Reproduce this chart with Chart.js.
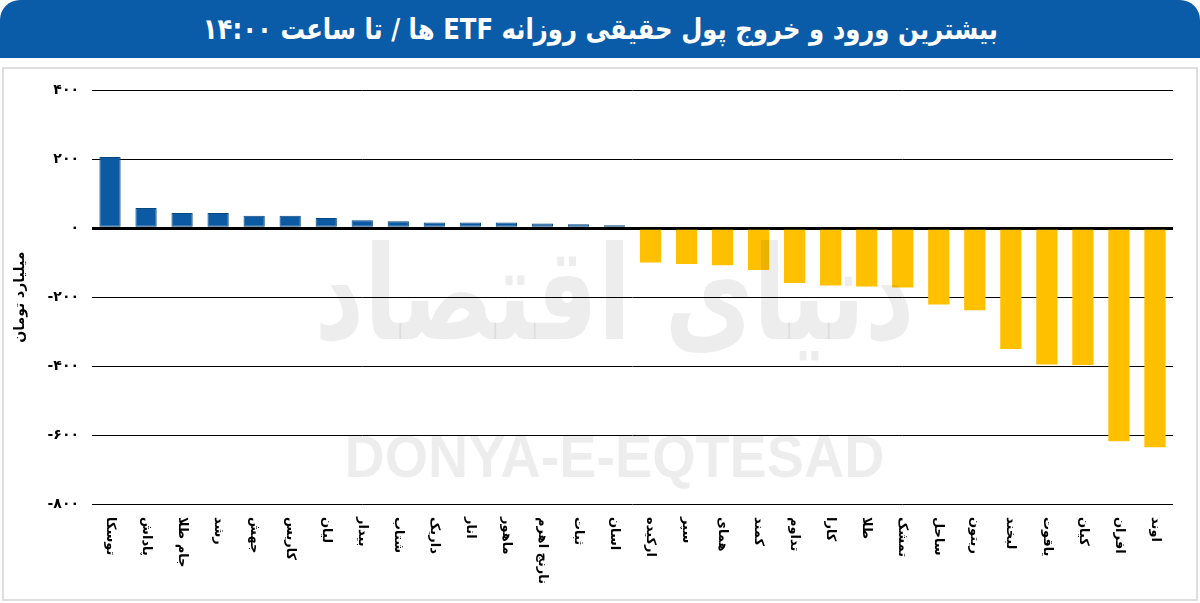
<!DOCTYPE html>
<html lang="fa">
<head>
<meta charset="utf-8">
<script src="https://cdn.jsdelivr.net/npm/chart.js@4.4.1/dist/chart.umd.min.js"></script>
<style>
html, body { margin: 0; padding: 0; background: #fff; }
body { width: 1200px; height: 603px; position: relative; overflow: hidden; font-family: "DejaVu Sans", sans-serif; }
#head {
  position: absolute; left: 0; top: 0; width: 1200px; height: 58px;
  background: #0a5ca8; border-radius: 20px 20px 0 0;
  color: #fff; font-weight: bold; font-size: 29px; line-height: 58px;
  text-align: center; direction: rtl;
}
#head span { display: inline-block; transform: scaleX(0.84); }
#panel { position: absolute; left: 2px; top: 67px; width: 1192px; height: 530px; border: 2px solid #dedede; }
#myChart { display: block; }
</style>
</head>
<body>
<div id="head"><span>بیشترین ورود و خروج پول حقیقی روزانه ETF ها / تا ساعت ۱۴:۰۰</span></div>
<div id="panel"><canvas id="myChart" width="1192" height="530"></canvas></div>
<script>
// fund names, left to right
const names = ['توسکا', 'پاداش', 'جام طلا', 'رشد', 'جهش', 'کاریس', 'لیان', 'بیدار', 'شتاب', 'داریک',
  'انار', 'ماهور', 'نارنج اهرم', 'ثبات', 'اسان', 'ارکیده', 'سپر', 'همای', 'کمند', 'تداوم',
  'کارا', 'طلا', 'تمشک', 'ساحل', 'ریتون', 'لبخند', 'یاقوت', 'کیان', 'افران', 'اوند'];
// net real money flow, billion toman
const flows = [207, 59, 44, 44, 36, 36, 30, 23, 20, 17,
  17, 17, 14, 12, 9, -99, -104, -107, -121, -159,
  -166, -169, -172, -221, -238, -350, -395, -397, -618, -635];
const yTicks = [400, 200, 0, -200, -400, -600, -800];
const yTitle = 'میلیارد تومان';

const faDigits = '۰۱۲۳۴۵۶۷۸۹';
const toFa = v => String(v).replace(/[0-9]/g, d => faDigits[d]);

const FONT = '"DejaVu Sans", sans-serif';

// rotated category labels, reading top to bottom
const xLabels = {
  id: 'xLabels',
  afterDraw(chart) {
    const { ctx, chartArea } = chart;
    const xs = chart.scales.x;
    ctx.save();
    ctx.font = 'bold 13px ' + FONT;
    ctx.fillStyle = '#000';
    ctx.textAlign = 'left';
    ctx.textBaseline = 'middle';
    ctx.direction = 'rtl';
    names.forEach((name, i) => {
      ctx.save();
      ctx.translate(xs.getPixelForTick(i), chartArea.bottom + 13);
      ctx.rotate(Math.PI / 2);
      ctx.fillText(name, 0, 0);
      ctx.restore();
    });
    ctx.restore();
  }
};

// faint newspaper watermark
const watermark = {
  id: 'watermark',
  afterDatasetsDraw(chart) {
    const { ctx, chartArea } = chart;
    const cx = (chartArea.left + chartArea.right) / 2 - 18;
    ctx.save();
    ctx.fillStyle = 'rgba(0,0,0,0.07)';
    ctx.textAlign = 'center';
    ctx.textBaseline = 'middle';
    ctx.font = 'bold 130px ' + FONT;
    ctx.direction = 'rtl';
    let w = ctx.measureText('دنیای اقتصاد').width;
    ctx.save();
    ctx.translate(cx, chartArea.top + 215);
    ctx.scale(600 / w, 1);
    ctx.fillText('دنیای اقتصاد', 0, 0);
    ctx.restore();
    ctx.direction = 'ltr';
    ctx.font = 'bold 60px "Liberation Sans Narrow", "Liberation Sans", sans-serif';
    w = ctx.measureText('DONYA-E-EQTESAD').width;
    ctx.translate(cx, chartArea.top + 370);
    ctx.scale(540 / w, 1);
    ctx.fillText('DONYA-E-EQTESAD', 0, 0);
    ctx.restore();
  }
};

new Chart(document.getElementById('myChart'), {
  type: 'bar',
  data: {
    labels: names,
    datasets: [{
      data: flows,
      backgroundColor: ctx => ctx.raw >= 0 ? '#0b5aa3' : '#ffc000',
      borderColor: ctx => ctx.raw >= 0 ? '#07477f' : '#ffc000',
      borderWidth: ctx => ctx.raw >= 0 ? 1 : 0,
      borderSkipped: false,
      barPercentage: 0.59,
      categoryPercentage: 1
    }]
  },
  options: {
    responsive: false,
    animation: false,
    layout: { padding: { top: 9, right: 23, left: 0, bottom: 0 } },
    plugins: { legend: { display: false }, tooltip: { enabled: false } },
    scales: {
      x: {
        offset: true,
        grid: { display: false },
        border: { display: false },
        ticks: { display: false },
        afterFit: s => { s.height = 95; }
      },
      y: {
        min: -800,
        max: 400,
        afterBuildTicks: s => { s.ticks = yTicks.map(v => ({ value: v })); },
        afterFit: s => { s.width = 88; },
        border: { display: false },
        grid: {
          color: '#000',
          lineWidth: ctx => ctx.tick && ctx.tick.value === 0 ? 3 : 1,
          drawTicks: false
        },
        ticks: {
          color: '#000',
          padding: 13,
          font: { family: FONT, size: 14, weight: 'bold' },
          callback: v => toFa(v)
        },
        title: {
          display: true,
          text: yTitle,
          color: '#000',
          font: { family: FONT, size: 14, weight: 'bold' },
          padding: { top: 8, bottom: 0 }
        }
      }
    }
  },
  plugins: [watermark, xLabels]
});
</script>
</body>
</html>
